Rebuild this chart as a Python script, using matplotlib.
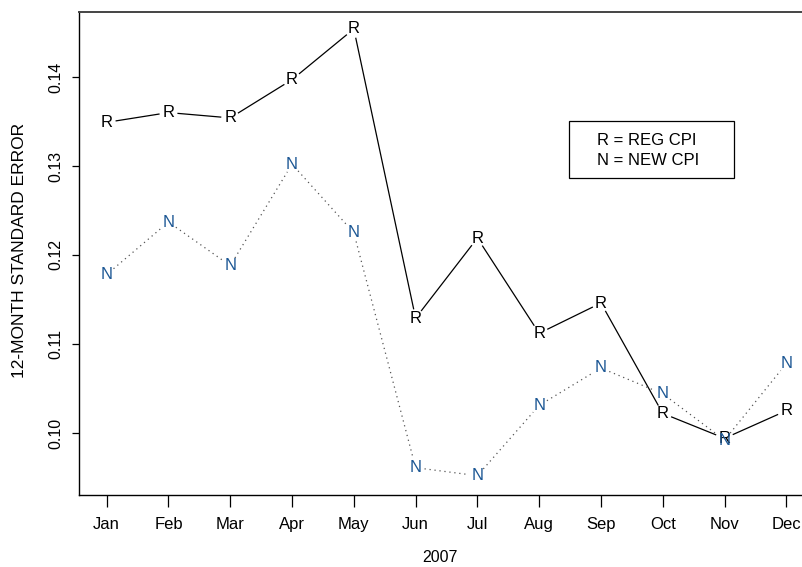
import numpy as np
import matplotlib
matplotlib.use('Agg')
import matplotlib.pyplot as plt
from matplotlib.patches import Rectangle

plt.rcParams['font.family'] = ['Liberation Sans', 'DejaVu Sans']

# valeurs
months = ['Jan', 'Feb', 'Mar', 'Apr', 'May', 'Jun', 'Jul', 'Aug', 'Sep', 'Oct', 'Nov', 'Dec']
reg_cpi = [0.1349, 0.1360, 0.1354, 0.1397, 0.1454, 0.1129, 0.1219, 0.1112, 0.1146, 0.1022, 0.0994, 0.1025]
new_cpi = [0.1178, 0.1237, 0.1188, 0.1302, 0.1225, 0.0961, 0.0952, 0.1031, 0.1073, 0.1044, 0.0992, 0.1078]

fig = plt.figure(figsize=(8.02, 5.67), dpi=100)
ax = fig.add_axes([79/802, 1 - 495/567, (814 - 79)/802, (495 - 12)/567])
ax.set_xlim(0.552, 12.448)
ax.set_ylim(0.09303, 0.14730)

x = np.arange(1, 13)


# type="b" : segments interrompus autour des lettres
def lines_with_gaps(xs, ys, gap, **kw):
    pts = ax.transData.transform(np.column_stack([xs, ys]))
    inv = ax.transData.inverted()
    for i in range(len(pts) - 1):
        p0, p1 = pts[i], pts[i + 1]
        d = p1 - p0
        n = np.hypot(*d)
        if n <= 2 * gap:
            continue
        u = d / n
        a = inv.transform(p0 + u * gap)
        b = inv.transform(p1 - u * gap)
        ax.plot([a[0], b[0]], [a[1], b[1]], **kw)


lines_with_gaps(x, reg_cpi, 9, color='black', lw=0.9, solid_capstyle='butt')
lines_with_gaps(x, new_cpi, 9, color='#555555', lw=0.9, linestyle=(0, (1, 3)))

for xi, yi in zip(x, reg_cpi):
    ax.text(xi, yi, 'R', ha='center', va='center', fontsize=12, color='black')
for xi, yi in zip(x, new_cpi):
    ax.text(xi, yi, 'N', ha='center', va='center', fontsize=12, color='#1c5794')

ax.set_xticks(x)
ax.set_xticklabels(months, fontsize=12)
ax.set_yticks([0.10, 0.11, 0.12, 0.13, 0.14])
ax.set_yticklabels(['0.10', '0.11', '0.12', '0.13', '0.14'], fontsize=11.5, rotation=90, va='center')
ax.tick_params(axis='x', length=8.6, width=0.9, pad=7)
ax.tick_params(axis='y', length=5, width=0.9, pad=6)

for s in ['left', 'bottom']:
    ax.spines[s].set_linewidth(1.0)
ax.spines['top'].set_linewidth(1.4)
ax.spines['top'].set_color('#444444')
ax.spines['right'].set_visible(False)

fig.text(20/802, 1 - 250/567, '12-MONTH STANDARD ERROR', rotation=90, ha='center', va='center', fontsize=12.5)
fig.text(440/802, 1 - 558/567, '2007', ha='center', va='center', fontsize=11.5)

# légende
fig.patches.append(Rectangle((569/802, 1 - 178/567), 165/802, 57/567, transform=fig.transFigure,
                             fill=False, edgecolor='black', lw=0.9))
fig.text(597/802, 1 - 141/567, 'R = REG CPI', ha='left', va='center', fontsize=12)
fig.text(597/802, 1 - 161/567, 'N = NEW CPI', ha='left', va='center', fontsize=12)

fig.savefig('out.png', dpi=100)
